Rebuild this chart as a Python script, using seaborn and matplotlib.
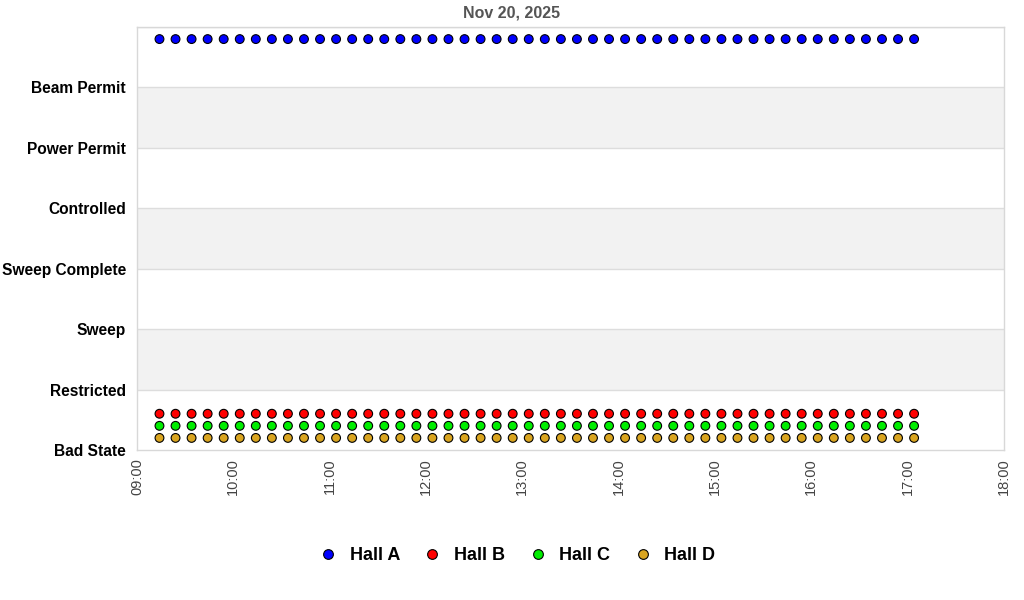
import matplotlib
matplotlib.use("Agg")
import matplotlib.dates as mdates
import matplotlib.pyplot as plt
import pandas as pd
import seaborn as sns

# data
day = "2025-11-20"
times = [
    "09:14", "09:24", "09:34", "09:44", "09:54", "10:04", "10:14", "10:24",
    "10:34", "10:44", "10:54", "11:04", "11:14", "11:24", "11:34", "11:44",
    "11:54", "12:04", "12:14", "12:24", "12:34", "12:44", "12:54", "13:04",
    "13:14", "13:24", "13:34", "13:44", "13:54", "14:04", "14:14", "14:24",
    "14:34", "14:44", "14:54", "15:04", "15:14", "15:24", "15:34", "15:44",
    "15:54", "16:04", "16:14", "16:24", "16:34", "16:44", "16:54", "17:04",
]
states = ["Bad State", "Restricted", "Sweep", "Sweep Complete",
          "Controlled", "Power Permit", "Beam Permit"]
halls = ["Hall A", "Hall B", "Hall C", "Hall D"]
hall_a_state = ["Beam Permit"] * len(times)
hall_b_state = ["Bad State"] * len(times)
hall_c_state = ["Bad State"] * len(times)
hall_d_state = ["Bad State"] * len(times)

colors = {"Hall A": "#0000ff", "Hall B": "#ff0000",
          "Hall C": "#00ee00", "Hall D": "#daa520"}
offsets = {"Hall A": 0.8, "Hall B": 0.6, "Hall C": 0.4, "Hall D": 0.2}

frames = []
for hall, st in zip(halls, [hall_a_state, hall_b_state, hall_c_state, hall_d_state]):
    frames.append(pd.DataFrame({
        "time": pd.to_datetime([f"{day} {t}" for t in times]),
        "hall": hall,
        "level": [states.index(s) + offsets[hall] for s in st],
    }))
df = pd.concat(frames, ignore_index=True)

sns.set_style("white")
plt.rcParams["font.family"] = ["Liberation Sans", "DejaVu Sans"]
plt.rcParams["text.color"] = "black"

fig = plt.figure(figsize=(10.24, 6), dpi=100)
ax = fig.add_axes([137 / 1024, 0.25, (1004 - 137) / 1024, (450 - 27) / 600])

for i in range(1, len(states), 2):
    ax.axhspan(i, i + 1, color="#f2f2f2", zorder=0, lw=0)
for i in range(1, len(states) + 1):
    ax.axhline(i, color="#dddddd", lw=1, zorder=1)

sns.scatterplot(data=df, x="time", y="level", hue="hall", hue_order=halls,
                palette=colors, s=40, edgecolor="black", linewidth=0.8,
                legend=False, ax=ax, zorder=3)

ax.set_xlim(pd.Timestamp(f"{day} 09:00"), pd.Timestamp(f"{day} 18:00"))
ax.set_ylim(0, len(states))
ax.xaxis.set_major_locator(mdates.HourLocator())
ax.xaxis.set_major_formatter(mdates.DateFormatter("%H:%M"))
ax.set_yticks(range(len(states)))
ax.set_yticklabels(states, fontweight="bold", fontsize=11.2, color="black")
ax.tick_params(axis="x", labelrotation=90, labelsize=10.5, labelcolor="#444444",
               length=0, pad=6)
ax.tick_params(axis="y", length=0, pad=8)
ax.set_xlabel("")
ax.set_ylabel("")
for sp in ax.spines.values():
    sp.set_color("#d8d8d8")
    sp.set_linewidth(1)

fig.text(0.5, 1 - 13 / 600, "Nov 20, 2025", ha="center", va="center",
         fontsize=11.5, fontweight="bold", color="#555555")

handles = [plt.Line2D([], [], marker="o", ls="", markersize=7,
                      markerfacecolor=colors[h], markeredgecolor="black",
                      markeredgewidth=0.8) for h in halls]
leg = fig.legend(handles, halls, loc="center", bbox_to_anchor=(0.505, 1 - 556 / 600),
                 ncol=4, frameon=False, columnspacing=1.3, handlelength=1.0,
                 handletextpad=0.7, prop={"weight": "bold", "size": 13})
for t in leg.get_texts():
    t.set_color("black")

fig.savefig("out.png", dpi=100)
